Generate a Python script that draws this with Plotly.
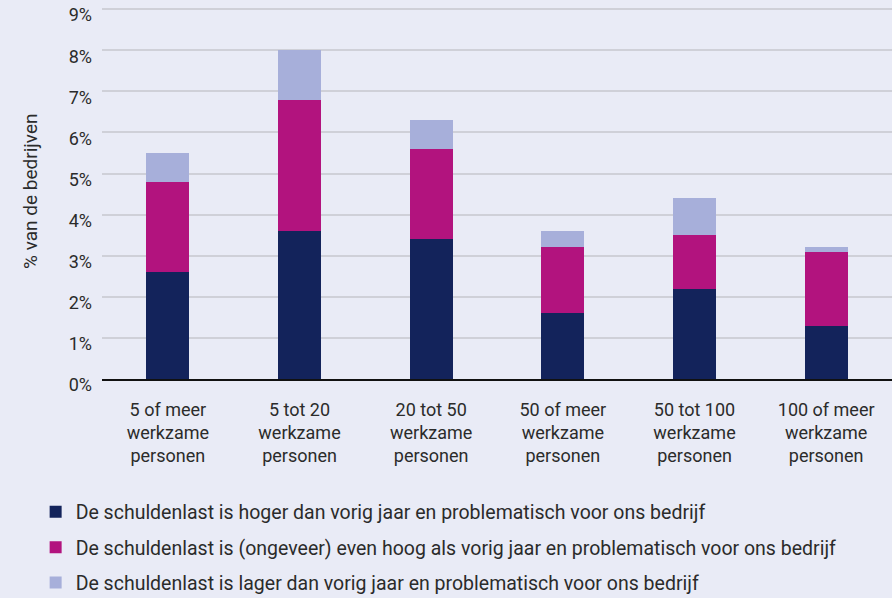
import plotly.graph_objects as go

categories = ["5 of meer<br>werkzame<br>personen", "5 tot 20<br>werkzame<br>personen",
              "20 tot 50<br>werkzame<br>personen", "50 of meer<br>werkzame<br>personen",
              "50 tot 100<br>werkzame<br>personen", "100 of meer<br>werkzame<br>personen"]
hoger = [2.6, 3.6, 3.4, 1.6, 2.2, 1.3]
even_hoog = [2.2, 3.2, 2.2, 1.6, 1.3, 1.8]
lager = [0.7, 1.2, 0.7, 0.4, 0.9, 0.1]
series_names = [
    "De schuldenlast is hoger dan vorig jaar en problematisch voor ons bedrijf",
    "De schuldenlast is (ongeveer) even hoog als vorig jaar en problematisch voor ons bedrijf",
    "De schuldenlast is lager dan vorig jaar en problematisch voor ons bedrijf",
]
colors = ["#13235b", "#b2137e", "#a7afda"]
y_ticks = [0, 1, 2, 3, 4, 5, 6, 7, 8, 9]
y_labels = [f"{v}%" for v in y_ticks]

BG = "#e9ebf6"
FONT = "Roboto"
TXT = "#2b2b2b"

fig = go.Figure()
for name, vals, col in zip(series_names, [hoger, even_hoog, lager], colors):
    fig.add_trace(go.Bar(x=categories, y=vals, name=name, marker_color=col,
                         marker_line_width=0, legendgroup=name))

fig.update_layout(
    width=892, height=598,
    barmode="stack", bargap=0.674,
    paper_bgcolor=BG, plot_bgcolor=BG,
    margin=dict(l=102, r=0, t=5, b=219, autoexpand=False),
    font=dict(family=FONT, size=18, color=TXT),
    showlegend=True,
    legend=dict(x=-0.084, xanchor="left", y=-0.304, yanchor="top",
                traceorder="grouped", tracegroupgap=7,
                font=dict(family=FONT, size=19.5, color=TXT),
                bgcolor="rgba(0,0,0,0)"),
    annotations=[dict(text="% van de bedrijven", x=-72 / 790, xref="paper", y=0.5, yref="paper",
                      xanchor="center", yanchor="middle", textangle=-90, showarrow=False,
                      font=dict(family=FONT, size=19, color=TXT))],
)
fig.update_yaxes(range=[0, 9.1], tickvals=y_ticks, ticktext=y_labels,
                 showgrid=True, gridcolor="#cfd0d8", gridwidth=2,
                 zeroline=False, showline=False, automargin=False,
                 ticklabelstandoff=9, ticklabelshift=6,
                 tickfont=dict(family=FONT, size=18, color=TXT))
fig.update_xaxes(showgrid=False, showline=True, linecolor="#111111", linewidth=2,
                 ticks="", ticklabelstandoff=13, automargin=False,
                 tickfont=dict(family=FONT, size=18, color=TXT))

fig.write_html("out.html", config={"displayModeBar": False},
               post_script="document.body.style.margin='0';document.body.style.padding='0';")
